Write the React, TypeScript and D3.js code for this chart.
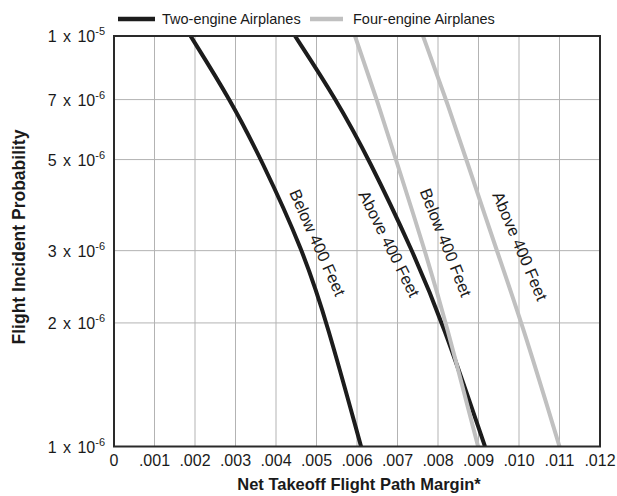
import React from "react";
import * as d3 from "d3";

const W = 617;
const H = 496;

const xTicks = [0, 0.001, 0.002, 0.003, 0.004, 0.005, 0.006, 0.007, 0.008, 0.009, 0.01, 0.011, 0.012];
const xTickLabels = ["0", ".001", ".002", ".003", ".004", ".005", ".006", ".007", ".008", ".009", ".010", ".011", ".012"];
const yTicks = [1e-6, 2e-6, 3e-6, 5e-6, 7e-6, 1e-5];
const yTickMant = ["1", "2", "3", "5", "7", "1"];
const yTickExp = ["-6", "-6", "-6", "-6", "-6", "-5"];

const probLevels = [1e-5, 7e-6, 5e-6, 3e-6, 2e-6, 1e-6];
const twoBelow = [0.00189, 0.00287, 0.00364, 0.00467, 0.00526, 0.0061];
const twoAbove = [0.00447, 0.00549, 0.0063, 0.00737, 0.00812, 0.00916];
const fourBelow = [0.00595, 0.00649, 0.00696, 0.00768, 0.0082, 0.00899];
const fourAbove = [0.00763, 0.0082, 0.0087, 0.00945, 0.01007, 0.011];

const labelTexts = ["Below 400 Feet", "Above 400 Feet", "Below 400 Feet", "Above 400 Feet"];
const labelX = [0.00503, 0.0068, 0.0082, 0.01003];
const labelY = [3.14e-6, 3.12e-6, 3.14e-6, 3.08e-6];
const labelAngle = [66, 63.5, 68.5, 67];

const seriesNames = ["Two-engine Airplanes", "Four-engine Airplanes"];

export default function App() {
  const left = 114, right = 600, top = 36, bottom = 446.5;
  const x = d3.scaleLinear().domain([0, 0.012]).range([left, right]);
  const y = d3.scaleLog().domain([1e-6, 1e-5]).range([bottom, top]);
  const line = d3
    .line<[number, number]>()
    .x((d) => x(d[0]))
    .y((d) => y(d[1]))
    .curve(d3.curveBasis);

  const series = [
    { vals: twoBelow, color: "#1c1c1c" },
    { vals: twoAbove, color: "#1c1c1c" },
    { vals: fourBelow, color: "#c0c0c0" },
    { vals: fourAbove, color: "#c0c0c0" },
  ];
  const font = "Liberation Sans, Arial, Helvetica, sans-serif";

  return (
    <svg width={W} height={H} style={{ position: "absolute", left: 0, top: 0 }} fontFamily={font}>
      <rect x={0} y={0} width={W} height={H} fill="#fff" />
      <defs>
        <clipPath id="plot">
          <rect x={left} y={top} width={right - left} height={bottom - top} />
        </clipPath>
      </defs>
      {xTicks.slice(1, -1).map((t, i) => (
        <line key={"gx" + i} x1={x(t)} x2={x(t)} y1={top} y2={bottom} stroke="#b3b3b3" strokeWidth={1} />
      ))}
      {yTicks.slice(1, -1).map((t, i) => (
        <line key={"gy" + i} x1={left} x2={right} y1={y(t)} y2={y(t)} stroke="#b3b3b3" strokeWidth={1} />
      ))}
      <g clipPath="url(#plot)">
        {series.map((s, i) => (
          <path
            key={"s" + i}
            d={line(s.vals.map((v, j) => [v, probLevels[j]]) as [number, number][]) || ""}
            fill="none"
            stroke={s.color}
            strokeWidth={4}
          />
        ))}
      </g>
      <rect x={left} y={top} width={right - left} height={bottom - top} fill="none" stroke="#2a2a2a" strokeWidth={2} />
      {labelTexts.map((t, i) => (
        <text
          key={"lb" + i}
          transform={`translate(${x(labelX[i])},${y(labelY[i])}) rotate(${labelAngle[i]})`}
          textAnchor="middle"
          dominantBaseline="central"
          fontSize={16.5}
          fill="#1a1a1a"
        >
          {t}
        </text>
      ))}
      {xTicks.map((t, i) => (
        <text key={"xt" + i} x={x(t)} y={466} textAnchor="middle" fontSize={16} fill="#1a1a1a">
          {xTickLabels[i]}
        </text>
      ))}
      {yTicks.map((t, i) => (
        <text key={"yt" + i} x={left - 9} y={y(t) + 6} textAnchor="end" fontSize={16} wordSpacing={2} fill="#1a1a1a">
          {yTickMant[i] + " x 10"}
          <tspan fontSize={11} dy={-7}>{yTickExp[i]}</tspan>
        </text>
      ))}
      <text x={359} y={490} textAnchor="middle" fontSize={16.5} fontWeight="bold" fill="#1a1a1a">
        Net Takeoff Flight Path Margin*
      </text>
      <text
        transform={`translate(25,237) rotate(-90)`}
        textAnchor="middle"
        fontSize={17.5}
        fontWeight="bold"
        fill="#1a1a1a"
      >
        Flight Incident Probability
      </text>
      <line x1={118} x2={155} y1={19} y2={19} stroke="#1c1c1c" strokeWidth={4.5} />
      <text x={162} y={24} fontSize={14.5} fill="#1a1a1a">{seriesNames[0]}</text>
      <line x1={310} x2={343} y1={19} y2={19} stroke="#c0c0c0" strokeWidth={4.5} />
      <text x={353} y={24} fontSize={14.5} fill="#1a1a1a">{seriesNames[1]}</text>
    </svg>
  );
}
